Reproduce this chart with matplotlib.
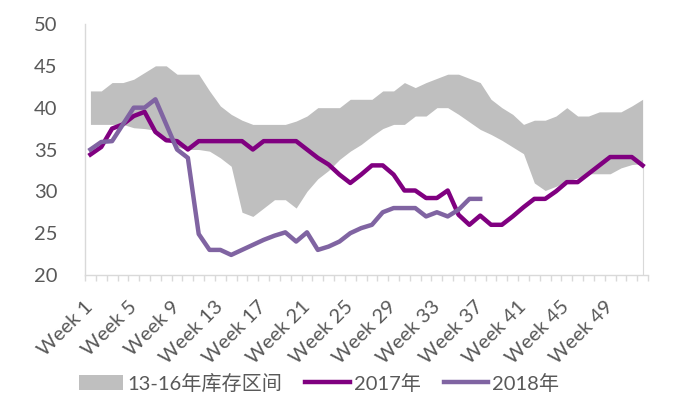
import matplotlib
matplotlib.use("Agg")
import matplotlib.pyplot as plt
from matplotlib.patches import Patch
from matplotlib.lines import Line2D
from matplotlib.ticker import FixedLocator

# Weekly data, week 1..52
weeks = list(range(1, 53))

band_low = [38, 38, 38, 38, 37.6, 37.5, 37.3, 36.2, 35.3, 35, 35, 34.8, 34, 33,
            27.5, 27, 28, 29, 29, 28, 30, 31.5, 32.5, 33.8, 34.8, 35.6, 36.6,
            37.5, 38, 38, 39, 39, 40, 40, 39.2, 38.3, 37.4, 36.8, 36.1, 35.3,
            34.5, 31, 30.1, 30.6, 31.2, 31.6, 32.1, 32.1, 32.1, 32.8, 33.2, 33.3]
band_high = [42, 42, 43, 43, 43.4, 44.2, 45, 45, 44, 44, 44, 42, 40.2, 39.2,
             38.5, 38, 38, 38, 38, 38.4, 39, 40, 40, 40, 41, 41, 41, 42, 42, 43,
             42.4, 43, 43.5, 44, 44, 43.5, 43, 41, 40, 39.2, 38, 38.5, 38.5, 39,
             40, 39, 39, 39.5, 39.5, 39.5, 40.2, 41]

y2017 = [34.4, 35.3, 37.5, 38, 39, 39.5, 37.1, 36.1, 36, 35, 36, 36, 36, 36,
         36, 35, 36, 36, 36, 36, 35, 34, 33.2, 32, 31, 32, 33.1, 33.1, 32, 30.1,
         30.1, 29.2, 29.2, 30.1, 27.2, 26, 27.1, 26, 26, 27, 28.1, 29.1, 29.1,
         30, 31.1, 31.1, 32.1, 33.1, 34.1, 34.1, 34.1, 33.1]

weeks2018 = weeks[:37]
y2018 = [35, 35.9, 36, 38, 40, 40, 41, 38, 35, 34, 24.9, 23, 23, 22.4, 23,
         23.6, 24.2, 24.7, 25.1, 24, 25.1, 23, 23.4, 24, 25, 25.6, 26, 27.5,
         28, 28, 28, 27, 27.5, 27, 27.8, 29.1, 29.1]

tick_weeks = list(range(1, 53, 4))
tick_labels = [f"Week {w}" for w in tick_weeks]

fonts = ["Lato", "Noto Sans CJK SC", "DejaVu Sans"]
plt.rcParams["font.family"] = fonts
text_color = "#595959"
axis_color = "#D9D9D9"
fsize = 14.5

fig = plt.figure(figsize=(6.78, 4.04), dpi=100)
ax = fig.add_axes([0.1254, 0.3193, 0.8304, 0.6213])

# Range band and lines
ax.fill_between(weeks, band_low, band_high, color="#BFBFBF", lw=0, zorder=1)
ax.vlines(weeks[-1], 20, band_low[-1], color=axis_color, lw=0.8, zorder=0)
ax.plot(weeks, y2017, color="#800080", lw=3.2, solid_joinstyle="round", zorder=3)
ax.plot(weeks2018, y2018, color="#8064A2", lw=3.2, solid_joinstyle="round", zorder=4)

ax.set_xlim(0.5, 52.5)
ax.set_ylim(20, 50)
ax.set_yticks(range(20, 51, 5))

for side in ["top", "right"]:
    ax.spines[side].set_visible(False)
for side in ["left", "bottom"]:
    ax.spines[side].set_color(axis_color)
    ax.spines[side].set_linewidth(1)

ax.tick_params(axis="y", length=0, pad=20, labelsize=fsize, labelcolor=text_color)
ax.set_xticks(tick_weeks)
ax.set_xticklabels(tick_labels)
ax.tick_params(axis="x", which="major", length=0, pad=21, labelsize=fsize,
               labelcolor=text_color)
ax.xaxis.set_minor_locator(FixedLocator([w + 0.5 for w in range(0, 53)]))
ax.tick_params(axis="x", which="minor", length=4, color=axis_color, width=1)
plt.setp(ax.get_xticklabels(), rotation=45, ha="right", va="center",
         rotation_mode="anchor")

handles = [
    Patch(facecolor="#BFBFBF", edgecolor="none"),
    Line2D([], [], color="#800080", lw=3.2),
    Line2D([], [], color="#8064A2", lw=3.2),
]
labels = ["13-16年库存区间", "2017年", "2018年"]
fig.legend(handles, labels, loc="center", bbox_to_anchor=(0.4705, 0.052),
           ncol=3, frameon=False, fontsize=fsize, labelcolor=text_color,
           handlelength=2.2, handleheight=0.75, handletextpad=0.2,
           columnspacing=1.15)

fig.savefig("out.png", dpi=100)
